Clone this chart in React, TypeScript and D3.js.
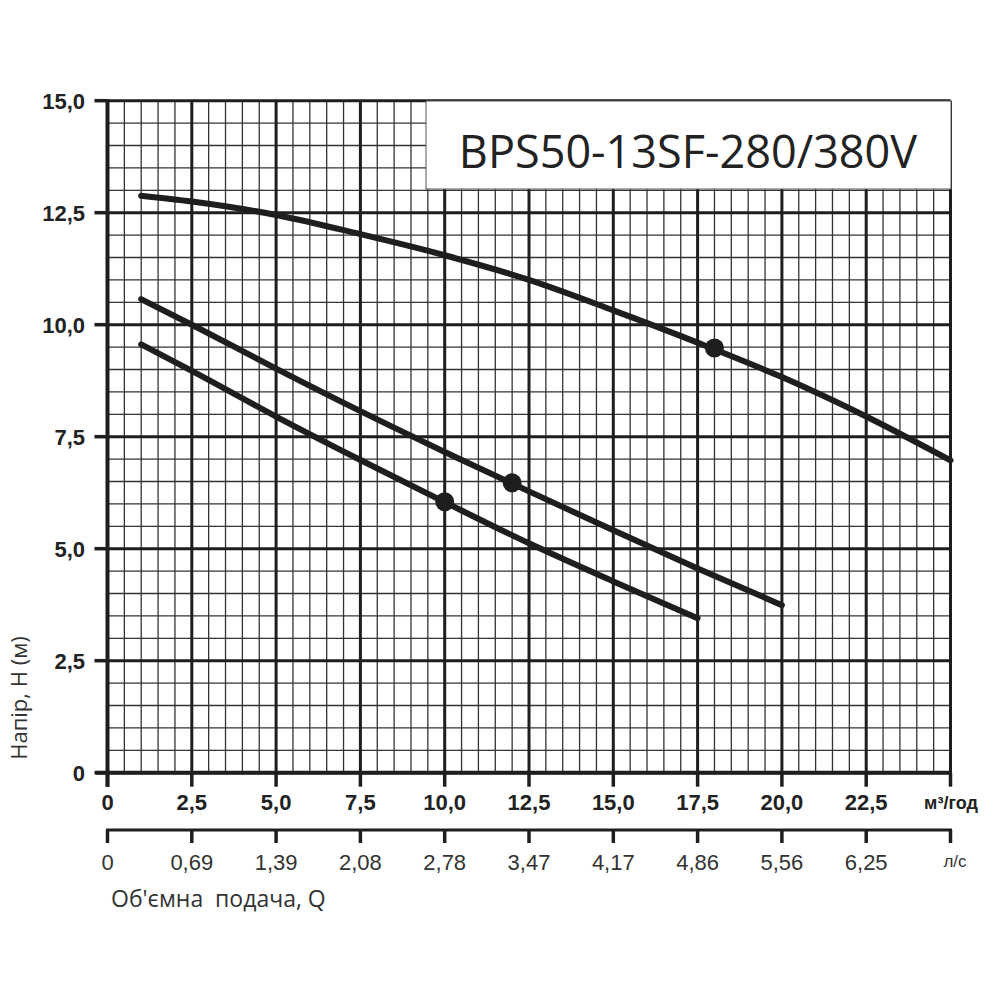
import React from "react";
import * as d3 from "d3";

const xTicks = [0, 2.5, 5, 7.5, 10, 12.5, 15, 17.5, 20, 22.5, 25];
const xTickLabels = ["0", "2,5", "5,0", "7,5", "10,0", "12,5", "15,0", "17,5", "20,0", "22,5", ""];
const lsTickLabels = ["0", "0,69", "1,39", "2,08", "2,78", "3,47", "4,17", "4,86", "5,56", "6,25", ""];
const yTicks = [0, 2.5, 5, 7.5, 10, 12.5, 15];
const yTickLabels = ["0", "2,5", "5,0", "7,5", "10,0", "12,5", "15,0"];

const curveTopQ = [1, 2.5, 5, 7.5, 10, 12.5, 15, 17.5, 20, 22.5, 25];
const curveTopH = [12.88, 12.75, 12.45, 12.02, 11.55, 11.0, 10.32, 9.6, 8.83, 7.95, 6.97];
const curveMidQ = [1, 2.5, 5, 7.5, 10, 12.5, 15, 17.5, 20];
const curveMidH = [10.57, 10.0, 9.02, 8.07, 7.16, 6.28, 5.41, 4.56, 3.74];
const curveLowQ = [1, 2.5, 5, 7.5, 10, 12.5, 15, 17.5];
const curveLowH = [9.56, 8.97, 7.95, 6.98, 6.04, 5.12, 4.27, 3.45];

const dotsQ = [18, 12, 10];
const dotsH = [9.48, 6.47, 6.05];

const title = "BPS50-13SF-280/380V";

export default function App() {
  const x = d3.scaleLinear().domain([0, 25]).range([107.5, 950.5]);
  const y = d3.scaleLinear().domain([0, 15]).range([772.7, 100.7]);
  const minorX = d3.range(0, 25.001, 0.5);
  const minorY = d3.range(0, 15.001, 0.5);
  const line = d3
    .line<[number, number]>()
    .x((d) => x(d[0]))
    .y((d) => y(d[1]))
    .curve(d3.curveMonotoneX);
  const curves = [
    curveTopQ.map((q, i) => [q, curveTopH[i]] as [number, number]),
    curveMidQ.map((q, i) => [q, curveMidH[i]] as [number, number]),
    curveLowQ.map((q, i) => [q, curveLowH[i]] as [number, number]),
  ];
  const isMajor = (v: number) => Math.abs(v / 2.5 - Math.round(v / 2.5)) < 1e-6;
  const ink = "#1e1e1e";
  const axis2Y = 830;

  return (
    <svg
      width={1000}
      height={1000}
      style={{ position: "absolute", left: 0, top: 0, background: "#fff" }}
    >
      <rect x={0} y={0} width={1000} height={1000} fill="#fff" />
      {/* minor grid */}
      {minorX.filter((v) => !isMajor(v)).map((v, i) => (
        <line key={"mx" + i} x1={x(v)} x2={x(v)} y1={y(15)} y2={y(0)} stroke="#333" strokeWidth={1.3} />
      ))}
      {minorY.filter((v) => !isMajor(v)).map((v, i) => (
        <line key={"my" + i} x1={x(0)} x2={x(25)} y1={y(v)} y2={y(v)} stroke="#333" strokeWidth={1.3} />
      ))}
      {/* major grid */}
      {xTicks.map((v, i) => (
        <line key={"Mx" + i} x1={x(v)} x2={x(v)} y1={y(15)} y2={y(0)} stroke={ink} strokeWidth={3} />
      ))}
      {yTicks.map((v, i) => (
        <line key={"My" + i} x1={x(0)} x2={x(25)} y1={y(v)} y2={y(v)} stroke={ink} strokeWidth={3} />
      ))}
      {/* title box */}
      <rect x={426} y={101} width={525} height={88} fill="#fff" stroke="#555" strokeWidth={1} />
      <text
        x={688}
        y={168}
        textAnchor="middle"
        fontFamily="'Open Sans', sans-serif"
        fontSize={45}
        fill="#222"
      >
        {title}
      </text>
      {/* axes */}
      <line x1={x(0)} x2={x(0)} y1={y(15) - 1.5} y2={y(0) + 14} stroke={ink} strokeWidth={4} />
      <line x1={x(0) - 12} x2={x(25) + 1} y1={y(0)} y2={y(0)} stroke={ink} strokeWidth={4} />
      {yTicks.map((v, i) => (
        <line key={"yt" + i} x1={x(0) - 13} x2={x(0)} y1={y(v)} y2={y(v)} stroke={ink} strokeWidth={3.5} />
      ))}
      {xTicks.map((v, i) => (
        <line key={"xt" + i} x1={x(v)} x2={x(v)} y1={y(0)} y2={y(0) + 14} stroke={ink} strokeWidth={3.5} />
      ))}
      {yTicks.map((v, i) => (
        <text
          key={"yl" + i}
          x={85}
          y={y(v) + 8}
          textAnchor="end"
          fontFamily="'Liberation Sans', Arial, sans-serif"
          fontWeight="bold"
          fontSize={22}
          fill="#222"
        >
          {yTickLabels[i]}
        </text>
      ))}
      {xTicks.map((v, i) => (
        <text
          key={"xl" + i}
          x={x(v)}
          y={810}
          textAnchor="middle"
          fontFamily="'Liberation Sans', Arial, sans-serif"
          fontWeight="bold"
          fontSize={22}
          fill="#222"
        >
          {xTickLabels[i]}
        </text>
      ))}
      <text x={951} y={809} textAnchor="middle" fontFamily="'Liberation Sans', Arial, sans-serif" fontWeight="bold" fontSize={18} fill="#222">
        м³/год
      </text>
      {/* second axis */}
      <line x1={x(0) - 1.5} x2={x(25) + 1.5} y1={axis2Y} y2={axis2Y} stroke={ink} strokeWidth={3} />
      {xTicks.map((v, i) => (
        <line key={"x2t" + i} x1={x(v)} x2={x(v)} y1={axis2Y} y2={axis2Y + 13} stroke={ink} strokeWidth={3.5} />
      ))}
      {xTicks.map((v, i) => (
        <text
          key={"x2l" + i}
          x={x(v)}
          y={870}
          textAnchor="middle"
          fontFamily="'Liberation Sans', Arial, sans-serif"
          fontSize={22}
          fill="#333"
        >
          {lsTickLabels[i]}
        </text>
      ))}
      <text x={955} y={867} textAnchor="middle" fontFamily="'Liberation Sans', Arial, sans-serif" fontSize={17} fill="#333">
        л/с
      </text>
      <text x={111} y={907} fontFamily="'Open Sans', sans-serif" fontSize={23} fill="#333" style={{ whiteSpace: "pre" }}>
        Об'ємна  подача, Q
      </text>
      <text
        transform={`translate(27, 698) rotate(-90)`}
        textAnchor="middle"
        fontFamily="'Open Sans', sans-serif"
        fontSize={22}
        fill="#333"
      >
        Напір, Н (м)
      </text>
      {/* curves */}
      {curves.map((c, i) => (
        <path key={"c" + i} d={line(c) || ""} fill="none" stroke={ink} strokeWidth={6} strokeLinecap="round" />
      ))}
      {dotsQ.map((q, i) => (
        <circle key={"d" + i} cx={x(q)} cy={y(dotsH[i])} r={9.5} fill={ink} />
      ))}
    </svg>
  );
}
